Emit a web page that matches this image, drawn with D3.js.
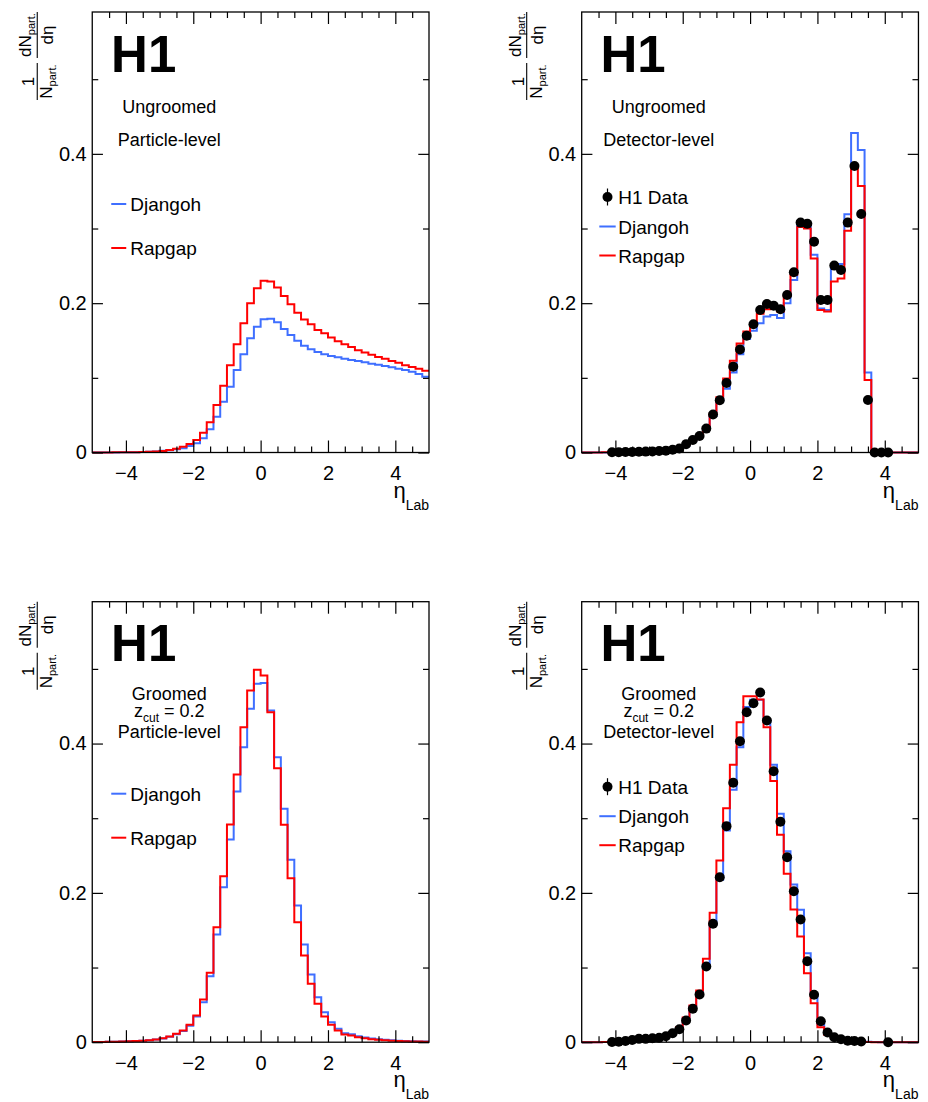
<!DOCTYPE html>
<html>
<head>
<meta charset="utf-8">
<script src="https://cdn.jsdelivr.net/npm/d3@7"></script>
<style>
  html, body { margin: 0; padding: 0; background: #fff; }
  svg { display: block; font-family: 'Liberation Sans', Arial, Helvetica, sans-serif; }
</style>
</head>
<body>
<svg id="chart" width="928" height="1102"></svg>
<script>
// ---------------- DATA ----------------
// bin edges in eta_Lab (50 bins of width 0.2)
const binEdges = [-5.0,-4.8,-4.6,-4.4,-4.2,-4.0,-3.8,-3.6,-3.4,-3.2,-3.0,-2.8,-2.6,-2.4,-2.2,-2.0,-1.8,-1.6,-1.4,-1.2,-1.0,-0.8,-0.6,-0.4,-0.2,
  0.0,0.2,0.4,0.6,0.8,1.0,1.2,1.4,1.6,1.8,2.0,2.2,2.4,2.6,2.8,3.0,3.2,3.4,3.6,3.8,4.0,4.2,4.4,4.6,4.8,5.0];

// Panel A: Ungroomed, particle level
const ungroomedPartDjangoh = [0.0001,0.0001,0.0001,0.0001,0.0002,0.0003,0.0004,0.0006,0.0009,0.0014,0.0022,0.003,0.0043,0.0056,0.0087,0.0123,0.019,0.031,0.048,0.068,0.0882,0.1105,0.1315,0.153,0.1685,
  0.1784,0.1793,0.1744,0.1654,0.1574,0.1498,0.1431,0.1382,0.1346,0.1315,0.1293,0.1275,0.1257,0.1239,0.1226,0.1208,0.119,0.1176,0.1159,0.1141,0.1123,0.1105,0.1083,0.1052,0.1016];
const ungroomedPartRapgap = [0.0001,0.0001,0.0001,0.0002,0.0002,0.0003,0.0005,0.0007,0.001,0.0015,0.002,0.0034,0.0051,0.0078,0.0114,0.0167,0.0266,0.0404,0.0636,0.0895,0.117,0.145,0.173,0.1998,0.220,
  0.230,0.229,0.221,0.2096,0.1985,0.1873,0.178,0.1717,0.164,0.1596,0.154,0.149,0.145,0.1413,0.137,0.134,0.131,0.128,0.1257,0.1226,0.1203,0.117,0.1144,0.1123,0.1096];

// Panel B: Ungroomed, detector level
const ungroomedDetData = [null,null,null,null,0.0004,0.0005,0.0006,0.0008,0.001,0.0012,0.0015,0.0019,0.0025,0.0036,0.0053,0.011,0.0167,0.022,0.032,0.051,0.070,0.093,0.115,0.138,0.1565,
  0.1717,0.1909,0.1989,0.1967,0.1918,0.211,0.2414,0.3079,0.3065,0.2824,0.2043,0.2043,0.2503,0.2445,0.3079,0.3838,0.3195,0.0703,0,0,0,null,null,null,null];
const ungroomedDetDjangoh = [0,0,0.0001,0.0001,0.0002,0.0003,0.0004,0.0006,0.0008,0.001,0.0013,0.0017,0.0023,0.0033,0.005,0.009,0.015,0.021,0.032,0.049,0.069,0.0855,0.107,0.1315,0.152,
  0.163,0.173,0.182,0.184,0.180,0.200,0.231,0.306,0.303,0.265,0.193,0.191,0.246,0.2525,0.319,0.428,0.405,0.107,0,0,0,0,0,0,0];
const ungroomedDetRapgap = [0,0,0.0001,0.0002,0.0003,0.0004,0.0005,0.0007,0.0009,0.0011,0.0014,0.0018,0.0025,0.0035,0.0055,0.010,0.016,0.023,0.034,0.052,0.074,0.099,0.123,0.146,0.162,
  0.173,0.186,0.192,0.193,0.189,0.210,0.238,0.302,0.300,0.260,0.191,0.189,0.229,0.233,0.297,0.383,0.357,0.097,0,0,0,0,0,0,0];

// Panel C: Groomed z_cut = 0.2, particle level
const groomedPartDjangoh = [0.0003,0.0004,0.0005,0.0007,0.0009,0.0012,0.0015,0.002,0.0026,0.0035,0.005,0.0072,0.0108,0.015,0.022,0.0344,0.0536,0.0884,0.1443,0.2076,0.2715,0.3358,0.3952,0.4466,0.480,
  0.481,0.4443,0.3818,0.3126,0.2443,0.183,0.1309,0.0907,0.0603,0.0402,0.0268,0.0179,0.012,0.0105,0.008,0.0063,0.005,0.004,0.0032,0.0025,0.002,0.0016,0.0012,0.001,0.0008];
const groomedPartRapgap = [0.0003,0.0004,0.0005,0.0007,0.0009,0.0012,0.0015,0.002,0.0026,0.0036,0.0054,0.0076,0.0112,0.0157,0.0233,0.0358,0.0572,0.093,0.154,0.2224,0.2916,0.3586,0.422,0.4711,0.4988,
  0.4912,0.442,0.367,0.2912,0.2197,0.1608,0.1161,0.0782,0.0514,0.0344,0.0233,0.0157,0.0103,0.009,0.0067,0.0054,0.004,0.0032,0.0025,0.002,0.0016,0.0012,0.001,0.0008,0.0006];

// Panel D: Groomed z_cut = 0.2, detector level
const groomedDetData = [null,null,null,null,0.0003,0.0005,0.0015,0.003,0.0045,0.0045,0.0054,0.006,0.008,0.012,0.0174,0.029,0.0447,0.0639,0.1014,0.1586,0.221,0.2894,0.3475,0.4032,0.442,
  0.4541,0.4685,0.4309,0.363,0.2952,0.2478,0.2023,0.1644,0.1085,0.0635,0.0281,0.013,0.0067,0.004,0.002,0.0015,0.001,null,null,null,0,null,null,null,null];
const groomedDetDjangoh = [0.0001,0.0001,0.0001,0.0002,0.0003,0.0006,0.0012,0.0024,0.0034,0.004,0.0048,0.0058,0.0077,0.0115,0.019,0.032,0.048,0.067,0.105,0.1586,0.2175,0.2836,0.338,0.395,0.4488,
  0.4586,0.4586,0.431,0.3716,0.306,0.2559,0.2113,0.1773,0.1192,0.0648,0.0237,0.012,0.006,0.0035,0.0022,0.0014,0.001,0.0005,0.0002,0.0001,0,0,0,0,0];
const groomedDetRapgap = [0,0,0.0001,0.0002,0.0003,0.0006,0.0012,0.0025,0.0035,0.004,0.005,0.006,0.008,0.012,0.02,0.033,0.0492,0.0693,0.1117,0.1733,0.2434,0.3135,0.3716,0.4287,0.4635,
  0.4635,0.459,0.422,0.3497,0.2778,0.2256,0.1778,0.1416,0.0925,0.0523,0.0201,0.010,0.005,0.003,0.002,0.0012,0.0008,0.0004,0,0,0,0,0,0,0];

// axis ticks / labels
const xMajorTicks = [-4, -2, 0, 2, 4];
const xMinorTicks = [-4.5,-3.5,-3,-2.5,-1.5,-1,-0.5,0.5,1,1.5,2.5,3,3.5,4.5];
const xTickLabels = ["\u22124", "\u22122", "0", "2", "4"];
const yMajorTicks = [0, 0.2, 0.4];
const yMinorTicks = [0.1, 0.3, 0.5];
const yTickLabels = ["0", "0.2", "0.4"];

const panels = [
  { x0: 92.25, yTop: 12,    lines: ["Ungroomed", "Particle-level"], groomed: false, data: null,
    djangoh: ungroomedPartDjangoh, rapgap: ungroomedPartRapgap },
  { x0: 581.7, yTop: 12,    lines: ["Ungroomed", "Detector-level"], groomed: false, data: ungroomedDetData,
    djangoh: ungroomedDetDjangoh, rapgap: ungroomedDetRapgap },
  { x0: 92.25, yTop: 601.7, lines: ["Groomed", "z", "Particle-level"], groomed: true, data: null,
    djangoh: groomedPartDjangoh, rapgap: groomedPartRapgap },
  { x0: 581.7, yTop: 601.7, lines: ["Groomed", "z", "Detector-level"], groomed: true, data: groomedDetData,
    djangoh: groomedDetDjangoh, rapgap: groomedDetRapgap }
];

// ---------------- DRAW ----------------
const BLUE = "#3f6fff", RED = "#ff0000";
const W = 336.75, H = 440.5, YMAX = 0.59;
const svg = d3.select("#chart");

panels.forEach(p => {
  const g = svg.append("g").attr("transform", `translate(${p.x0},${p.yTop})`);
  const x = d3.scaleLinear().domain([-5, 5]).range([0, W]);
  const y = d3.scaleLinear().domain([0, YMAX]).range([H, 0]);

  // histograms
  const line = d3.line().x(d => x(d[0])).y(d => y(d[1])).curve(d3.curveStepAfter);
  const histPts = vals => {
    const pts = vals.map((v, i) => [binEdges[i], v]);
    pts.push([binEdges[binEdges.length - 1], vals[vals.length - 1]]);
    return pts;
  };
  g.append("path").attr("d", line(histPts(p.djangoh)))
    .attr("fill", "none").attr("stroke", BLUE).attr("stroke-width", 2);
  g.append("path").attr("d", line(histPts(p.rapgap)))
    .attr("fill", "none").attr("stroke", RED).attr("stroke-width", 2);

  if (p.data) {
    const pts = p.data.map((v, i) => ({ c: (binEdges[i] + binEdges[i + 1]) / 2, v }))
      .filter(d => d.v !== null);
    g.selectAll("circle.pt").data(pts).join("circle")
      .attr("class", "pt")
      .attr("cx", d => x(d.c)).attr("cy", d => y(d.v)).attr("r", 5).attr("fill", "#000");
  }

  // axes
  const styleAxis = sel => {
    sel.select(".domain").remove();
    sel.selectAll(".tick line").attr("stroke", "#000").attr("stroke-width", 1.2);
    sel.selectAll("text").attr("fill", "#000").attr("font-size", 20)
      .attr("font-family", "'Liberation Sans', Arial, Helvetica, sans-serif");
  };
  g.append("g").attr("transform", `translate(0,${H})`)
    .call(d3.axisBottom(x).tickValues(xMajorTicks).tickSize(-12).tickPadding(13.5)
      .tickFormat((d, i) => xTickLabels[i])).call(styleAxis);
  g.append("g").attr("transform", `translate(0,${H})`)
    .call(d3.axisBottom(x).tickValues(xMinorTicks).tickSize(-6).tickFormat("")).call(styleAxis);
  g.append("g")
    .call(d3.axisTop(x).tickValues(xMajorTicks).tickSize(-12).tickFormat("")).call(styleAxis);
  g.append("g")
    .call(d3.axisTop(x).tickValues(xMinorTicks).tickSize(-6).tickFormat("")).call(styleAxis);
  g.append("g")
    .call(d3.axisLeft(y).tickValues(yMajorTicks).tickSize(-10.7).tickPadding(5.5)
      .tickFormat((d, i) => yTickLabels[i])).call(styleAxis);
  g.append("g")
    .call(d3.axisLeft(y).tickValues(yMinorTicks).tickSize(-6).tickFormat("")).call(styleAxis);
  g.append("g").attr("transform", `translate(${W},0)`)
    .call(d3.axisRight(y).tickValues(yMajorTicks).tickSize(-10.7).tickFormat("")).call(styleAxis);
  g.append("g").attr("transform", `translate(${W},0)`)
    .call(d3.axisRight(y).tickValues(yMinorTicks).tickSize(-6).tickFormat("")).call(styleAxis);

  // frame
  g.append("rect").attr("x", 0).attr("y", 0).attr("width", W).attr("height", H)
    .attr("fill", "none").attr("stroke", "#000").attr("stroke-width", 1.3);

  // x title
  const xt = g.append("text").attr("x", W).attr("y", H + 45).attr("text-anchor", "end")
    .attr("font-size", 22).attr("fill", "#000");
  xt.append("tspan").text("\u03b7");
  xt.append("tspan").attr("dy", 12).attr("font-size", 14).text("Lab");

  // y title (rotated fraction)
  const yt = g.append("g").attr("transform", `translate(-55,88) rotate(-90)`);
  yt.append("line").attr("x1", 0).attr("x2", 37).attr("y1", 0).attr("y2", 0)
    .attr("stroke", "#000").attr("stroke-width", 1.1);
  yt.append("text").attr("x", 18.5).attr("y", -3).attr("text-anchor", "middle")
    .attr("font-size", 17).text("1");
  const den = yt.append("text").attr("x", 18.5).attr("y", 15).attr("text-anchor", "middle").attr("font-size", 17);
  den.append("tspan").text("N");
  den.append("tspan").attr("dy", 4).attr("font-size", 11).text("part.");
  yt.append("line").attr("x1", 42).attr("x2", 88).attr("y1", 0).attr("y2", 0)
    .attr("stroke", "#000").attr("stroke-width", 1.1);
  const num = yt.append("text").attr("x", 65).attr("y", -6).attr("text-anchor", "middle").attr("font-size", 17);
  num.append("tspan").text("dN");
  num.append("tspan").attr("dy", 4).attr("font-size", 11).text("part.");
  yt.append("text").attr("x", 65).attr("y", 16).attr("text-anchor", "middle")
    .attr("font-size", 17).text("d\u03b7");

  // H1 logo
  g.append("text").attr("x", 18.8).attr("y", 59.7).attr("font-size", 51).attr("font-weight", "bold")
    .attr("fill", "#000").text("H1");

  // annotations
  if (!p.groomed) {
    g.append("text").attr("x", 77).attr("y", 101.3).attr("text-anchor", "middle").attr("font-size", 18).text(p.lines[0]);
    g.append("text").attr("x", 77).attr("y", 133.5).attr("text-anchor", "middle").attr("font-size", 18).text(p.lines[1]);
  } else {
    g.append("text").attr("x", 77).attr("y", 98.3).attr("text-anchor", "middle").attr("font-size", 18).text(p.lines[0]);
    const z = g.append("text").attr("x", 77).attr("y", 115).attr("text-anchor", "middle").attr("font-size", 18);
    z.append("tspan").text("z");
    z.append("tspan").attr("dy", 5).attr("font-size", 12).text("cut");
    z.append("tspan").attr("dy", -5).text(" = 0.2");
    g.append("text").attr("x", 77).attr("y", 136.7).attr("text-anchor", "middle").attr("font-size", 18).text(p.lines[2]);
  }

  // legend
  const legItems = [];
  if (p.data) {
    legItems.push({ type: "data", label: "H1 Data", y: 185 });
    legItems.push({ type: "line", color: BLUE, label: "Djangoh", y: 214.5 });
    legItems.push({ type: "line", color: RED, label: "Rapgap", y: 243.5 });
  } else {
    legItems.push({ type: "line", color: BLUE, label: "Djangoh", y: 192 });
    legItems.push({ type: "line", color: RED, label: "Rapgap", y: 236 });
  }
  const lx0 = p.data ? 17.6 : 19, lx1 = p.data ? 34 : 34, tx = p.data ? 36.6 : 38;
  legItems.forEach(it => {
    if (it.type === "data") {
      const cx = (lx0 + lx1) / 2;
      g.append("line").attr("x1", cx).attr("x2", cx).attr("y1", it.y - 8.5).attr("y2", it.y + 8.5)
        .attr("stroke", "#000").attr("stroke-width", 1.2);
      g.append("circle").attr("cx", cx).attr("cy", it.y).attr("r", 5).attr("fill", "#000");
    } else {
      g.append("line").attr("x1", lx0).attr("x2", lx1).attr("y1", it.y).attr("y2", it.y)
        .attr("stroke", it.color).attr("stroke-width", 2);
    }
    g.append("text").attr("x", tx).attr("y", it.y + 7).attr("font-size", 19).attr("fill", "#000").text(it.label);
  });
});
</script>
</body>
</html>
